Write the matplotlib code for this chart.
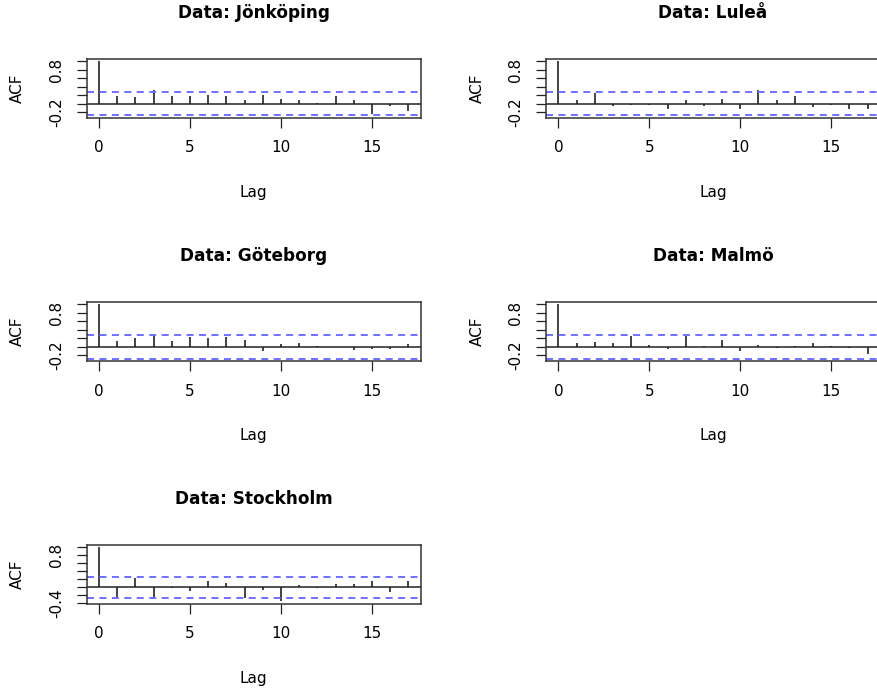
import numpy as np
import matplotlib.pyplot as plt

plt.rcParams['font.family'] = ['DejaVu Sans']

# data (acf per lag, lag 0..17)
cities = ["Jönköping", "Luleå", "Göteborg", "Malmö", "Stockholm"]
lags = np.arange(18)

acf_jonkoping = [1.0, 0.19, 0.15, 0.33, 0.19, 0.19, 0.21, 0.19, 0.09, 0.21,
                 0.11, 0.09, 0.02, 0.17, 0.09, -0.25, -0.06, -0.18]
acf_lulea = [1.0, 0.08, 0.24, -0.05, -0.03, -0.03, -0.13, 0.08, -0.05, 0.12,
             -0.13, 0.31, 0.08, 0.18, -0.09, -0.02, -0.13, -0.13]
acf_goteborg = [1.0, 0.13, 0.21, 0.27, 0.13, 0.24, 0.21, 0.24, 0.15, -0.10,
                0.06, 0.08, 0.03, -0.01, -0.08, -0.06, -0.06, 0.06]
acf_malmo = [1.0, 0.08, 0.12, 0.08, 0.26, 0.04, -0.06, 0.26, 0.03, 0.17,
             -0.10, 0.05, -0.02, 0.02, 0.08, 0.02, -0.02, -0.18]
acf_stockholm = [1.0, -0.24, 0.22, -0.26, -0.02, -0.08, 0.15, 0.10, -0.26, -0.06,
                 -0.35, 0.06, -0.02, 0.08, 0.08, 0.15, -0.12, 0.16]

acfs = [acf_jonkoping, acf_lulea, acf_goteborg, acf_malmo, acf_stockholm]
conf_limits = [0.275, 0.275, 0.28, 0.28, 0.26]
y_tick_vals = [[-0.2, 0.0, 0.2, 0.4, 0.6, 0.8, 1.0]] * 4 + [[-0.4, -0.2, 0.0, 0.2, 0.4, 0.6, 0.8, 1.0]]
y_tick_text = [{-0.2: "-0.2", 0.8: "0.8"}] * 4 + [{-0.4: "-0.4", 0.8: "0.8"}]
x_ticks = [0, 5, 10, 15]

W, H = 877, 690
fig = plt.figure(figsize=(W / 100, H / 100), dpi=100)

col_left = [86.7, 546.0]
row_top = [59.0, 302.3, 545.0]
pw, ph = 334.0, 58.5

for i, (city, acf) in enumerate(zip(cities, acfs)):
    r, c = divmod(i, 2)
    left, top = col_left[c], row_top[r]
    ax = fig.add_axes([left / W, 1 - (top + ph) / H, pw / W, ph / H])
    clim = conf_limits[i]
    lo = min(-clim, min(acf))
    hi = 1.0
    pad = 0.04 * (hi - lo)
    ax.set_ylim(lo - pad, hi + pad)
    ax.set_xlim(-0.04 * 17, 17 * 1.04)

    ax.vlines(lags, 0, acf, color="#222222", lw=1.2)
    ax.axhline(0, color="#222222", lw=1.1)
    ax.axhline(clim, color="#7070ff", lw=1.4, ls=(0, (3.6, 2.8)))
    ax.axhline(-clim, color="#7070ff", lw=1.4, ls=(0, (3.6, 2.8)))

    ax.set_xticks(x_ticks)
    ax.set_xticklabels([str(t) for t in x_ticks])
    yt = y_tick_vals[i]
    ax.set_yticks(yt)
    ax.set_yticklabels([y_tick_text[i].get(round(v, 1), "") for v in yt],
                       rotation=90, va="center")
    ax.tick_params(axis="both", length=7.5, width=0.9, labelsize=11, color="#222222")
    ax.tick_params(axis="x", pad=9)
    ax.tick_params(axis="y", pad=9)
    for s in ax.spines.values():
        s.set_linewidth(1.1)
        s.set_color("#333333")

    cx = (left + pw / 2) / W
    fig.text(cx, 1 - (top - 46.5) / H, "Data: " + city, ha="center", va="center",
             fontsize=12.2, fontweight="bold")
    fig.text((left + pw / 2) / W, 1 - (top + ph + 75) / H, "Lag", ha="center",
             va="center", fontsize=11)
    fig.text((left - 69) / W, 1 - (top + ph / 2) / H, "ACF", ha="center",
             va="center", rotation=90, fontsize=11)

fig.savefig("out.png", dpi=100)
